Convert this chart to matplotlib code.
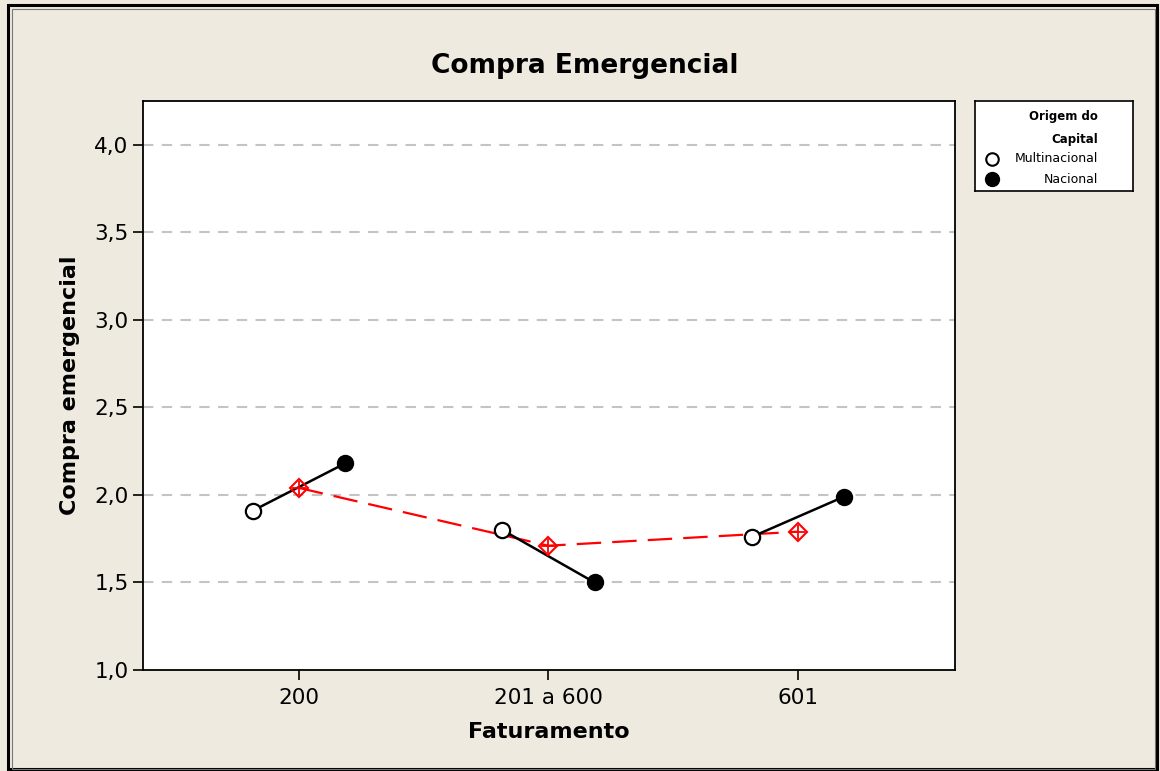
import matplotlib
matplotlib.use("Agg")
from matplotlib import pyplot as plt
from matplotlib.patches import Rectangle
from matplotlib.lines import Line2D

# dados
categorias = ["200", "201 a 600", "601"]
multinacional = [1.91, 1.80, 1.76]
nacional = [2.18, 1.50, 1.99]
media = [2.04, 1.71, 1.79]

bg = "#eeeae0"
fig = plt.figure(figsize=(11.6, 7.71), dpi=100, facecolor=bg)

# moldura dupla
fig.patches.append(Rectangle((0.007, 0.003), 0.99, 0.99, transform=fig.transFigure,
                             fill=False, lw=2.2, ec="black"))
fig.patches.append(Rectangle((0.0105, 0.003), 0.985, 0.985, transform=fig.transFigure,
                             fill=False, lw=0.8, ec="#777777"))

ax = fig.add_axes([0.1233, 0.131, 0.70, 0.738])
ax.set_facecolor("white")

off = 0.185
x = list(range(len(categorias)))

# linhas pretas entre as origens em cada faixa
for i in x:
    ax.plot([i - off, i + off], [multinacional[i], nacional[i]], color="black", lw=1.8, zorder=3)

ax.plot(x, media, color="red", lw=1.6, ls=(0, (11, 5)), zorder=2)
ax.plot(x, media, ls="none", marker="D", ms=9, mfc="none", mec="red", mew=1.5, zorder=4)
ax.plot(x, media, ls="none", marker="+", ms=10, mec="red", mew=1.3, zorder=4)

ax.plot([i - off for i in x], multinacional, ls="none", marker="o", ms=11,
        mfc="white", mec="black", mew=1.6, zorder=5)
ax.plot([i + off for i in x], nacional, ls="none", marker="o", ms=11.5,
        mfc="black", mec="black", zorder=5)

ax.set_xlim(-0.625, 2.63)
ax.set_ylim(1.0, 4.25)
ax.set_xticks(x)
ax.set_xticklabels(categorias)
yt = [1.0, 1.5, 2.0, 2.5, 3.0, 3.5, 4.0]
ax.set_yticks(yt)
ax.set_yticklabels([("%.1f" % v).replace(".", ",") for v in yt])
ax.tick_params(labelsize=15.5, length=7, width=1.2, color="black")
ax.tick_params(axis="x", pad=6)
for s in ax.spines.values():
    s.set_linewidth(1.3)

for v in yt[1:]:
    ax.axhline(v, color="#c4c4c4", lw=1.5, ls=(0, (5, 4)), zorder=1)

ax.set_xlabel("Faturamento", fontsize=16, fontweight="bold", labelpad=10)
ax.set_ylabel("Compra emergencial", fontsize=16, fontweight="bold", labelpad=10)
fig.text(0.504, 0.915, "Compra Emergencial", fontsize=19, fontweight="bold",
         ha="center", va="center")

# legenda
lg = fig.add_axes([0.8405, 0.7523, 0.136, 0.1167])
lg.set_xlim(0, 1)
lg.set_ylim(0, 1)
lg.set_xticks([])
lg.set_yticks([])
lg.set_facecolor("white")
for s in lg.spines.values():
    s.set_linewidth(1.2)
lg.text(0.78, 0.83, "Origem do", fontsize=8.5, fontweight="bold", ha="right", va="center")
lg.text(0.78, 0.57, "Capital", fontsize=8.5, fontweight="bold", ha="right", va="center")
lg.text(0.78, 0.36, "Multinacional", fontsize=9, ha="right", va="center")
lg.text(0.78, 0.13, "Nacional", fontsize=9, ha="right", va="center")
lg.add_line(Line2D([0.11], [0.36], marker="o", ms=9, mfc="white", mec="black", mew=1.5))
lg.add_line(Line2D([0.11], [0.13], marker="o", ms=10, mfc="black", mec="black"))

fig.savefig("out.png", dpi=100, facecolor=bg)
